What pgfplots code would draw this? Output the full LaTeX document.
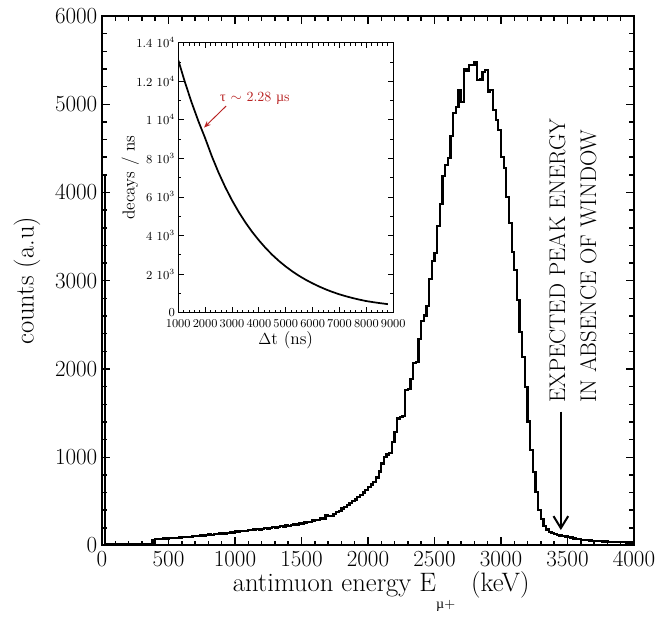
\documentclass[border=0pt]{standalone}
\usepackage{pgfplots}
\pgfplotsset{compat=1.18}
\usepackage{fontspec}
\newfontfamily\grk{Liberation Serif}
\usetikzlibrary{arrows.meta}
\definecolor{annred}{RGB}{185,35,35}
\begin{document}
\begin{tikzpicture}
\begin{axis}[name=main, at={(0,0)}, anchor=south west, scale only axis,
  width=399pt, height=397.125pt,
  xmin=0, xmax=4000, ymin=0, ymax=6000,
  xtick distance=500, ytick distance=1000,
  minor x tick num=4, minor y tick num=4,
  tick align=inside, major tick length=6pt, minor tick length=3.5pt,
  axis line style={line width=1.5pt},
  every tick/.style={black, line width=1.1pt},
  tick label style={font=\fontsize{16.5}{16.5}\selectfont},
  /pgf/number format/1000 sep={}, scaled ticks=false,
  xticklabel style={yshift=-1pt},
  xlabel={antimuon energy E\raisebox{-13pt}{\fontsize{10.5}{10.5}\selectfont{\grk µ}+}\hspace{12pt}(keV)},
  xlabel style={font=\fontsize{20}{20}\selectfont, at={(axis description cs:0.237,-0.087)}, anchor=base west},
  ylabel={counts (a.u)},
  ylabel style={font=\fontsize{20}{20}\selectfont, at={(axis description cs:-0.141,0.5)}, anchor=center},
]
\addplot[const plot, line width=1.7pt, black] coordinates {
(0,4200) (20,15) (100,12) (200,14) (300,12)
(380,65) (400,70) (420,72) (440,75) (460,78) (480,80) (500,83) (520,85) (540,88) (560,86)
(580,92) (600,95) (620,98) (640,100) (660,96) (680,105) (700,110) (720,108) (740,115) (760,112)
(780,120) (800,125) (820,122) (840,130) (860,128) (880,135) (900,140) (920,136) (940,145) (960,150)
(980,148) (1000,158) (1020,155) (1040,162) (1060,168) (1080,165) (1100,175) (1120,172) (1140,180) (1160,185)
(1180,182) (1200,190) (1220,196) (1240,192) (1260,200) (1280,206) (1300,203) (1320,212) (1340,218) (1360,215)
(1380,228) (1400,225) (1420,236) (1440,242) (1460,238) (1480,252) (1500,248) (1520,262) (1540,270) (1560,265)
(1580,282) (1600,290) (1620,286) (1640,305) (1660,300) (1680,340) (1700,338) (1720,335) (1740,360) (1760,380)
(1780,395) (1800,420) (1820,440) (1840,455) (1860,480) (1880,505) (1900,520) (1920,550) (1940,575) (1960,600)
(1980,630) (2000,665) (2020,690) (2040,720) (2060,770) (2080,840) (2100,930) (2120,1000) (2140,1030) (2160,1050)
(2180,1175) (2200,1290) (2220,1440) (2240,1455) (2260,1470) (2280,1760) (2300,1770) (2320,1890) (2340,2065) (2360,2080)
(2380,2340) (2400,2545) (2420,2605) (2440,2715) (2460,3016) (2480,3227) (2500,3318) (2520,3620) (2540,3866) (2560,4187)
(2580,4312) (2600,4388) (2620,4640) (2640,4904) (2660,4972) (2680,5161) (2700,5029) (2720,5396) (2740,5380) (2760,5445)
(2780,5445) (2800,5482) (2820,5275) (2840,5280) (2860,5369) (2880,5388) (2900,5142) (2920,5161) (2940,4935) (2960,4822)
(2980,4709) (3000,4406) (3020,4274) (3040,3952) (3060,3651) (3080,3329) (3100,3122) (3120,2782) (3140,2423) (3160,2139)
(3180,1799) (3200,1404) (3220,1082) (3240,836) (3260,609) (3280,402) (3300,300) (3320,225) (3340,180) (3360,155)
(3380,140) (3400,128) (3420,118) (3440,112) (3460,108) (3480,102) (3500,95) (3520,90) (3540,80) (3560,75)
(3580,70) (3600,66) (3620,62) (3640,60) (3660,57) (3680,54) (3700,51) (3720,49) (3740,47) (3760,45)
(3780,44) (3800,42) (3820,41) (3840,40) (3860,39) (3880,38) (3900,37) (3920,36) (3940,35) (3960,34)
(3980,33) (4000,33)
};
\draw[line width=1.5pt, -{Straight Barb[length=9pt, width=11pt, line width=1.5pt]}] (axis cs:3450,1516) -- (axis cs:3450,175);
\node[rotate=90, anchor=north west, align=left, inner sep=0pt, font=\fontsize{17}{23.25}\selectfont]
  at (axis cs:3360,1615) {EXPECTED PEAK ENERGY\\IN ABSENCE OF WINDOW};
\end{axis}
\begin{axis}[at={(57.2pt,174.6pt)}, anchor=south west, scale only axis,
  width=161.25pt, height=202.5pt,
  xmin=1000, xmax=9000, ymin=0, ymax=14000,
  xtick distance=1000, ytick={0,2000,4000,6000,8000,10000,12000,14000},
  yticklabels={0,{2 10$^3$},{4 10$^3$},{6 10$^3$},{8 10$^3$},{1 10$^4$},{1.2 10$^4$},{1.4 10$^4$}},
  minor x tick num=4, minor y tick num=1,
  tick align=inside, major tick length=4pt, minor tick length=2.3pt,
  axis line style={line width=0.9pt},
  every tick/.style={black, line width=0.6pt},
  axis background/.style={fill=white},
  tick label style={font=\fontsize{9.2}{9.2}\selectfont},
  yticklabel style={xshift=1pt},
  xticklabel style={yshift=-1.5pt},
  /pgf/number format/1000 sep={}, scaled ticks=false,
  xlabel={$\Delta$t (ns)}, ylabel={decays / ns},
  label style={font=\fontsize{13}{13}\selectfont},
  xlabel style={at={(axis description cs:0.5,-0.1)}, anchor=center},
  ylabel style={at={(axis description cs:-0.223,0.5)}, anchor=center},
]
\addplot[line width=1.3pt, black] coordinates {
(1000,13100) (1250,11943) (1500,10889) (1750,9927) (2000,9051) (2250,8108) (2500,7263) (2750,6506)
(3000,5828) (3250,5221) (3500,4677) (3750,4189) (4000,3753) (4250,3354) (4500,2997) (4750,2678)
(5000,2393) (5250,2136) (5500,1907) (5750,1702) (6000,1520) (6250,1352) (6500,1202) (6750,1069)
(7000,951) (7250,848) (7500,756) (7750,674) (8000,601) (8250,547) (8500,497) (8800,443)
};
\node[anchor=west, text=annred, font=\fontsize{10.5}{10.5}\selectfont, inner sep=0pt]
  at (axis cs:2552,11130) {{\grk τ} $\sim$ 2.28 {\grk µ}s};
\draw[annred, line width=0.7pt, -{Stealth[length=5pt, width=4pt]}] (axis cs:2782,10717) -- (axis cs:1960,9600);
\end{axis}
\pgfresetboundingbox
\path[use as bounding box] (-76.5pt,-56.625pt) rectangle (417pt,409.125pt);
\end{tikzpicture}
\end{document}
